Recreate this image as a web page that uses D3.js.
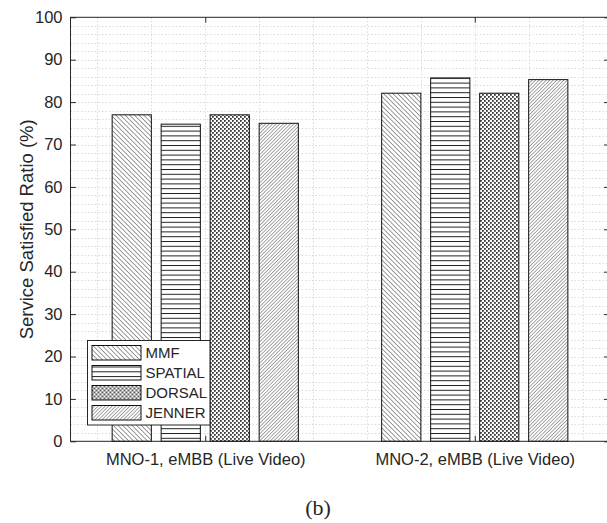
<!DOCTYPE html>
<html>
<head>
<meta charset="utf-8">
<script src="https://cdn.jsdelivr.net/npm/d3@7"></script>
<style>
  html, body { margin: 0; padding: 0; background: #fff; }
  svg { display: block; }
  text { font-family: "Liberation Sans", Arial, Helvetica, sans-serif; fill: #262626; }
</style>
</head>
<body>
<svg id="chart" width="607" height="523"></svg>
<script>
// ---- data ----
const categories = ["MNO-1, eMBB (Live Video)", "MNO-2, eMBB (Live Video)"];
const seriesNames = ["MMF", "SPATIAL", "DORSAL", "JENNER"];
const mmfValues     = [77.0, 82.1];
const spatialValues = [74.8, 85.7];
const dorsalValues  = [77.0, 82.1];
const jennerValues  = [75.0, 85.3];
const yTicks = [0, 10, 20, 30, 40, 50, 60, 70, 80, 90, 100];
const yMinorGrid = d3.range(2, 100, 2);
const xMinorGrid = [0.6, 0.8, 1.0, 1.2, 1.4, 1.6, 1.8, 2.0, 2.2, 2.4];
const yLabel = "Service Satisfied Ratio (%)";
const caption = "(b)";

const seriesValues = [mmfValues, spatialValues, dorsalValues, jennerValues];
const patternIds = ["pMMF", "pSPATIAL", "pDORSAL", "pJENNER"];

// ---- layout ----
const svg = d3.select("#chart");
const L = 70.5, R = 609.5, T = 17.3, B = 441.3;
const x = d3.scaleLinear().domain([0.5, 2.5]).range([L, R]);
const y = d3.scaleLinear().domain([0, 100]).range([B, T]);
const axisColor = "#262626";

// ---- patterns ----
const defs = svg.append("defs");
function hatch(id, size, angle, sw) {
  const p = defs.append("pattern").attr("id", id)
    .attr("patternUnits", "userSpaceOnUse")
    .attr("width", size).attr("height", size)
    .attr("patternTransform", `rotate(${angle})`);
  p.append("rect").attr("width", size).attr("height", size).attr("fill", "#fff");
  p.append("line").attr("x1", 0).attr("y1", 0).attr("x2", 0).attr("y2", size)
    .attr("stroke", "#222").attr("stroke-width", sw);
  return p;
}
hatch("pMMF", 3.3, -45, 0.9);
(function () {
  const s = 4.8;
  const p = defs.append("pattern").attr("id", "pSPATIAL")
    .attr("patternUnits", "userSpaceOnUse").attr("width", 10).attr("height", s)
    .attr("y", 1);
  p.append("rect").attr("width", 10).attr("height", s).attr("fill", "#fff");
  p.append("line").attr("x1", 0).attr("x2", 10).attr("y1", 0.5).attr("y2", 0.5)
    .attr("stroke", "#222").attr("stroke-width", 1);
})();
(function () {
  const s = 4;
  const p = defs.append("pattern").attr("id", "pDORSAL")
    .attr("patternUnits", "userSpaceOnUse").attr("width", s).attr("height", s);
  p.append("rect").attr("width", s).attr("height", s).attr("fill", "#fff");
  p.append("rect").attr("x", 0).attr("y", 0).attr("width", 1.8).attr("height", 1.8).attr("fill", "#3a3a3a");
  p.append("rect").attr("x", 2).attr("y", 2).attr("width", 1.8).attr("height", 1.8).attr("fill", "#3a3a3a");
})();
hatch("pJENNER", 2.5, 45, 0.8);

// ---- grid ----
const grid = svg.append("g");
grid.selectAll("line.gy").data(yMinorGrid).join("line")
  .attr("x1", L).attr("x2", R)
  .attr("y1", d => Math.round(y(d)) + 0.5).attr("y2", d => Math.round(y(d)) + 0.5)
  .attr("stroke", "#dadada").attr("stroke-width", 1).attr("stroke-dasharray", "1.5,2");
grid.selectAll("line.gx").data(xMinorGrid).join("line")
  .attr("y1", T).attr("y2", B)
  .attr("x1", d => Math.round(x(d)) + 0.5).attr("x2", d => Math.round(x(d)) + 0.5)
  .attr("stroke", "#dadada").attr("stroke-width", 1).attr("stroke-dasharray", "1.5,2");

// ---- bars ----
const nS = seriesNames.length;
const groupWidth = Math.min(0.8, nS / (nS + 1.5));
const slot = groupWidth / nS;
const barW = slot * 0.8;
const barsG = svg.append("g");
seriesValues.forEach((vals, si) => {
  barsG.selectAll(null).data(vals).join("rect")
    .attr("x", (d, ci) => x(ci + 1 + (si - (nS - 1) / 2) * slot - barW / 2))
    .attr("width", x(barW) - x(0))
    .attr("y", d => y(d))
    .attr("height", d => y(0) - y(d))
    .attr("fill", `url(#${patternIds[si]})`)
    .attr("stroke", "#111").attr("stroke-width", 1);
});

// ---- axes ----
const axG = svg.append("g");
axG.append("rect").attr("x", L).attr("y", T).attr("width", R - L).attr("height", B - T)
  .attr("fill", "none").attr("stroke", axisColor).attr("stroke-width", 1);

const tickLen = 5.4;
const yAxisL = svg.append("g").attr("transform", `translate(${L},0)`)
  .call(d3.axisLeft(y).tickValues(yTicks).tickSizeInner(-tickLen).tickSizeOuter(0).tickPadding(8));
const yAxisR = svg.append("g").attr("transform", `translate(${R},0)`)
  .call(d3.axisRight(y).tickValues(yTicks).tickSizeInner(-tickLen).tickSizeOuter(0).tickFormat(""));
const xAxisB = svg.append("g").attr("transform", `translate(0,${B})`)
  .call(d3.axisBottom(x).tickValues([1, 2]).tickSizeInner(-tickLen).tickSizeOuter(0)
    .tickFormat(d => categories[d - 1]).tickPadding(12));
const xAxisT = svg.append("g").attr("transform", `translate(0,${T})`)
  .call(d3.axisTop(x).tickValues([1, 2]).tickSizeInner(-tickLen).tickSizeOuter(0).tickFormat(""));
[yAxisL, yAxisR, xAxisB, xAxisT].forEach(g => {
  g.select(".domain").remove();
  g.selectAll(".tick line").attr("stroke", axisColor);
  g.selectAll(".tick text").attr("fill", axisColor)
    .style("font-family", '"Liberation Sans", Arial, sans-serif').style("font-size", "16.5px");
});

// y label
svg.append("text")
  .attr("transform", `translate(33,${(T + B) / 2}) rotate(-90)`)
  .attr("text-anchor", "middle")
  .style("font-size", "18.5px")
  .text(yLabel);

// ---- legend ----
const lg = svg.append("g").attr("transform", "translate(87.5,340.5)");
lg.append("rect").attr("width", 122.5).attr("height", 84.5)
  .attr("fill", "#fff").attr("stroke", axisColor).attr("stroke-width", 1);
seriesNames.forEach((name, i) => {
  const g = lg.append("g").attr("transform", `translate(0,${5 + i * 20})`);
  g.append("rect").attr("x", 4.5).attr("y", 0).attr("width", 49).attr("height", 14.5)
    .attr("fill", `url(#${patternIds[i]})`).attr("stroke", "#111").attr("stroke-width", 1);
  g.append("text").attr("x", 58).attr("y", 7.5).attr("dy", "0.35em")
    .style("font-size", "15px").text(name);
});

// caption
svg.append("text").attr("x", 318).attr("y", 515).attr("text-anchor", "middle")
  .style("font-family", '"Liberation Serif", "Times New Roman", serif')
  .style("font-size", "22px").attr("fill", "#000").text(caption);
</script>
</body>
</html>
